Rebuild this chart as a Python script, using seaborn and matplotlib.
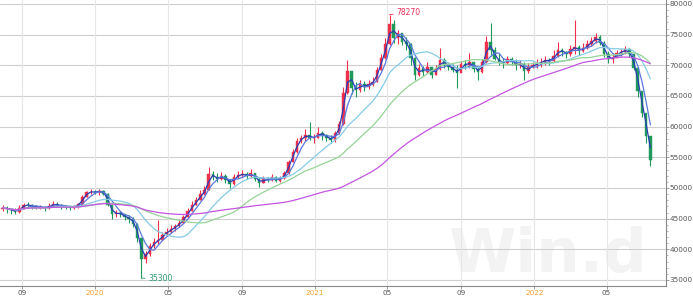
import numpy as np
import pandas as pd
import matplotlib
matplotlib.use("Agg")
import matplotlib.pyplot as plt
import matplotlib.dates as mdates
import seaborn as sns

# ---------------- data (weekly bars) ----------------
week_start = "2019-07-31"
first_open = 46600

close = [
    46800, 46500, 46400, 46100, 46700, 47300, 47200, 47000, 46800, 46900,
    46700, 47100, 47400, 47200, 47000, 46900, 46800, 47000, 47400, 48600,
    49300, 49400, 49300, 49500, 49100, 47300, 45700, 46000, 45700, 45200,
    45000, 44200, 41800, 38500, 39200, 40500, 41200, 41600, 42400, 42900,
    43300, 43800, 44300, 45200, 46200, 47300, 48000, 49000, 49700, 52300,
    51800, 51500, 51900, 51300, 50700, 51800, 52100, 52300, 51900, 52400,
    51500, 50800, 51500, 51300, 51800, 51200, 51600, 52400, 54300, 55800,
    57700, 58100, 58700, 58200, 58200, 59000, 58700, 58200, 57800, 58900,
    60400, 65500, 69000, 66300, 66000, 66900, 66500, 67000, 67300, 69300,
    71200, 73500, 76800, 74500, 75200, 73800, 73500, 71200, 68400, 69500,
    68900, 69700, 68500, 69400, 70900, 70100, 69800, 69300, 68700, 70200,
    70000, 70600, 69400, 68900, 70500, 73800, 72500, 71100, 70600, 70300,
    71100, 70600, 70000, 70200, 69000, 69700, 70000, 70300, 70600, 70900,
    70700, 71600, 72500, 72200, 71800, 72700, 73000, 72300, 72800, 73400,
    74000, 74600, 73700, 71900, 71000, 71200, 72000, 72200, 72600, 71800,
    69600, 65800, 62300, 58500, 54600,
]
high = [
    47200, 47000, 46800, 46700, 47200, 47600, 47700, 47400, 47200, 47300,
    47100, 47500, 47800, 47700, 47400, 47300, 47200, 47300, 47600, 48900,
    49500, 49800, 49700, 49800, 49600, 49200, 46600, 46400, 46200, 45800,
    45600, 45300, 44300, 41500, 39800, 41000, 41900, 44800, 42900, 43500,
    43900, 44200, 44800, 45600, 46700, 47800, 48600, 49600, 50300, 53400,
    52700, 52400, 52600, 52200, 51500, 52200, 52700, 53000, 52600, 53100,
    52500, 51700, 51900, 51800, 52200, 52000, 52000, 52700, 54600, 56300,
    58200, 58600, 59600, 60700, 58800, 59900, 59300, 58800, 58700, 59300,
    61000, 66500, 70900, 69000, 67300, 67600, 67400, 67600, 68100, 69800,
    71800, 74500, 78270, 77400, 75800, 75300, 74600, 73600, 71300, 70200,
    69900, 70500, 69800, 70100, 72800, 71200, 70600, 70200, 70000, 70700,
    70900, 72000, 70300, 69800, 71000, 74800, 76900, 73000, 72000, 71200,
    71500, 71400, 71000, 70800, 70500, 70300, 70500, 71000, 71200, 71500,
    71200, 72500, 73800, 72900, 72400, 73300, 77400, 73300, 73600, 74200,
    74600, 75300, 75000, 73900, 72300, 71800, 72500, 72700, 73200, 72900,
    71700, 69700, 65500, 61500, 58200,
]
low = [
    46300, 45900, 45800, 45700, 46000, 46600, 46800, 46600, 46500, 46500,
    46300, 46600, 46900, 46900, 46600, 46500, 46400, 46600, 46800, 47300,
    48600, 49000, 49000, 48900, 48800, 47000, 44900, 45300, 45200, 44700,
    44300, 43600, 41200, 35300, 37800, 38900, 40200, 40900, 41500, 42300,
    42600, 43000, 43600, 44300, 45100, 46200, 47300, 48000, 48800, 49700,
    51300, 51000, 51300, 50800, 50000, 50500, 51600, 51800, 51500, 51700,
    51200, 50200, 50800, 50900, 51100, 50900, 50900, 51500, 52300, 54200,
    55700, 57300, 57600, 57900, 57300, 58100, 57800, 57600, 57300, 57500,
    58800, 60300, 65300, 65300, 64900, 65600, 65800, 66200, 66700, 67200,
    69200, 71000, 73300, 73600, 73500, 73300, 72500, 70100, 67600, 68300,
    68200, 68800, 67900, 68400, 69300, 69500, 69200, 68900, 66300, 69300,
    69400, 69600, 68900, 67600, 68700, 70300, 71500, 70900, 70100, 69500,
    70200, 70100, 69200, 69500, 67600, 68800, 69500, 69600, 69800, 70100,
    70100, 70600, 71400, 71600, 71200, 71600, 71900, 71700, 72200, 72600,
    73200, 73700, 73300, 71400, 70400, 70400, 71300, 71600, 71900, 71300,
    69300, 64800, 61600, 57300, 53600,
]

ma_windows = [2, 4, 12, 24, 58]
ma_colors = ["#2a3db5", "#5a78dc", "#86cbe6", "#96d396", "#c455e0"]

tick_dates = ["2019-09-01", "2020-01-01", "2020-05-01", "2020-09-01", "2021-01-01",
              "2021-05-01", "2021-09-01", "2022-01-01", "2022-05-01"]
tick_labels = ["09", "2020", "05", "09", "2021", "05", "09", "2022", "05"]
year_labels = {"2020", "2021", "2022"}
y_ticks = [35000, 40000, 45000, 50000, 55000, 60000, 65000, 70000, 75000, 80000]

peak_text = "78270"
trough_text = "35300"

# ---------------- frame ----------------
dates = pd.date_range(week_start, periods=len(close), freq="7D")
df = pd.DataFrame({"date": dates, "close": close, "high": high, "low": low})
df["open"] = df["close"].shift(1).fillna(first_open)
df["x"] = mdates.date2num(df["date"])

sns.set_theme(style="white")
plt.rcParams["font.family"] = ["DejaVu Sans"]

fig = plt.figure(figsize=(6.93, 2.99), dpi=100)
ax = fig.add_axes([0.0, 13 / 299, 666 / 693, 286 / 299])

up_col = "#f0304a"
dn_col = "#1f9a5a"
up = df["close"] >= df["open"]
colors = np.where(up, up_col, dn_col)

ax.vlines(df["x"], df["low"], df["high"], colors=colors, lw=0.8, zorder=2)
body = (df["close"] - df["open"]).to_numpy(dtype=float)
body = np.where(np.abs(body) < 120, np.where(body >= 0, 120, -120), body)
ax.bar(df["x"], body, bottom=df["open"], width=4.2, color=colors,
       edgecolor=colors, linewidth=0.3, zorder=2)

for w, c in zip(ma_windows, ma_colors):
    ma = df["close"].rolling(w, min_periods=1).mean()
    sns.lineplot(x=df["x"], y=ma, color=c, lw=0.9, ax=ax, zorder=3)

# annotations
ipk = int(np.argmax(df["high"]))
ax.annotate(peak_text, xy=(df["x"][ipk], df["high"][ipk]), xytext=(5, 1.5),
            textcoords="offset points", fontsize=5.5, color="#e8305a",
            va="center", ha="left",
            arrowprops=dict(arrowstyle="-", color="#e8305a", lw=0.6,
                            shrinkA=0, shrinkB=0))
itr = int(np.argmin(df["low"]))
ax.annotate(trough_text, xy=(df["x"][itr], df["low"][itr]), xytext=(5, -0.5),
            textcoords="offset points", fontsize=5.5, color="#2a9a6a",
            va="center", ha="left",
            arrowprops=dict(arrowstyle="-", color="#2a9a6a", lw=0.6,
                            shrinkA=0, shrinkB=0))

# watermark (kept inside the plot area)
ax.text(448 / 666, 0.004, "Win.d", transform=ax.transAxes, fontsize=44,
        fontweight="bold", color="#f3f3f3", ha="left", va="bottom", zorder=0.1)

# axes
x0 = mdates.date2num(pd.Timestamp("2019-07-26 19:00"))
x1 = mdates.date2num(pd.Timestamp("2022-08-08"))
ax.set_xlim(x0, x1)
ax.set_ylim(34020, 80650)
ax.set_xlabel("")
ax.set_ylabel("")

ax.set_xticks(mdates.date2num(pd.to_datetime(tick_dates)))
ax.set_xticklabels(tick_labels)
for lab in ax.get_xticklabels():
    lab.set_color("#f0a030" if lab.get_text() in year_labels else "#555555")

ax.yaxis.tick_right()
ax.set_yticks(y_ticks)
ax.set_yticklabels([str(v) for v in y_ticks])
ax.set_yticks(np.arange(35000, 80001, 1000), minor=True)

ax.tick_params(axis="x", which="major", length=2, width=0.6, color="#888888",
               labelsize=5.2, pad=0.8, bottom=True, direction="out")
ax.tick_params(axis="y", which="major", length=2, width=0.6, color="#888888",
               labelsize=5.2, labelcolor="#555555", pad=0.6, right=True, left=False,
               direction="out")
ax.tick_params(axis="y", which="minor", length=1.2, width=0.5, color="#999999",
               right=True, left=False)

ax.set_axisbelow(True)
ax.grid(False)
for v in y_ticks:
    ax.axhline(v, color="#cfcfcf", lw=0.8, zorder=0.5)
for d in tick_dates:
    ax.axvline(mdates.date2num(pd.Timestamp(d)), color="#e6e6e6", lw=0.8, zorder=0.5)

for s in ["top", "left"]:
    ax.spines[s].set_visible(False)
ax.spines["right"].set_color("#888888")
ax.spines["right"].set_linewidth(0.8)
ax.spines["bottom"].set_color("#888888")
ax.spines["bottom"].set_linewidth(0.8)

if ax.get_legend() is not None:
    ax.get_legend().remove()

fig.savefig("out.png", dpi=100)
